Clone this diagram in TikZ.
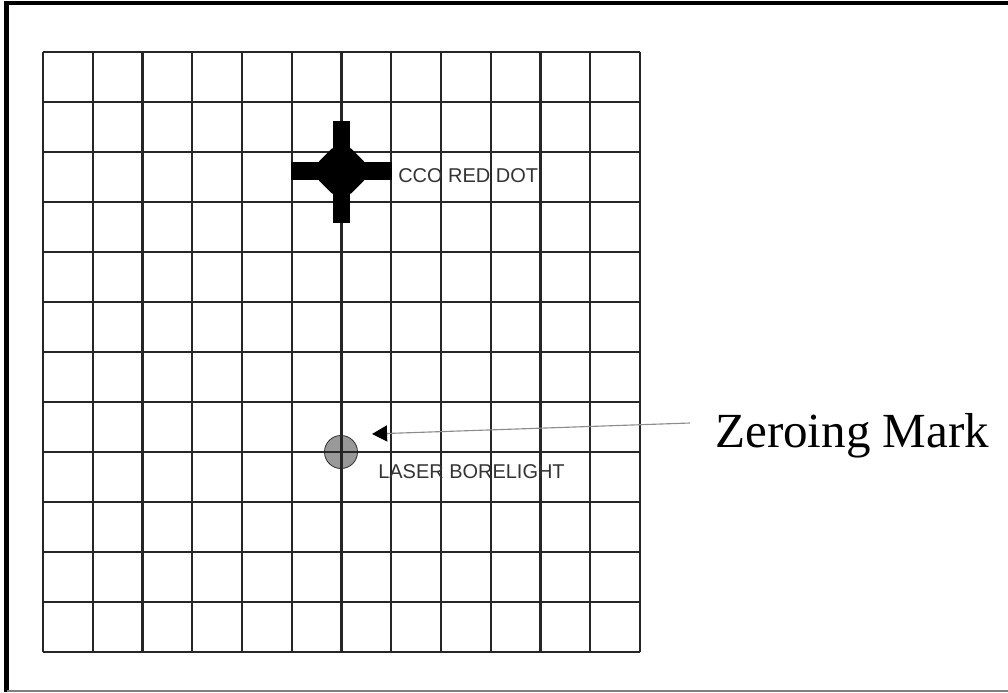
\documentclass[tikz,border=0pt]{standalone}
\usepackage{fontspec}
\setmainfont{Liberation Serif}
\newfontfamily\arialfont{Liberation Sans}
\usepackage{xcolor}
\usepackage{tikz}
\usetikzlibrary{arrows.meta, calc, positioning, shapes.geometric}

\begin{document}
\begin{tikzpicture}[x=0.025cm, y=-0.025cm,
  gridline/.style={black!85, line width=1.5pt},
  lbl/.style={font=\arialfont\fontsize{14.2}{16}\selectfont, text=black!80, inner sep=0pt, anchor=base west},
  laser/.style={circle, minimum size=23.5pt, inner sep=0pt, fill=black!40, draw=black!80, line width=0.6pt},
  dotmark/.style={regular polygon, regular polygon sides=8, minimum size=35pt, inner sep=0pt, fill=black},
  pointer/.style={black!45, line width=0.8pt, -{Triangle[length=10.7pt, width=11.4pt, color=black]}}]
\useasboundingbox (0,0) rectangle (1008,692);
% frame
\draw[line width=3pt] (6.5,692) -- (6.5,3) -- (1008,3);
\draw[black!50, line width=1.2pt] (6.5,691) -- (1008,691);
% laser boresight spot (under the grid)
\node[laser] (bore) at (341,452) {};
% target grid
\foreach \i in {0,...,12} {
  \draw[gridline] ({43+\i*49.75},52) -- ({43+\i*49.75},652);
  \draw[gridline] (43,{52+\i*50}) -- (640,{52+\i*50});
}
% red dot aiming mark
\node[dotmark] (reddot) at (341.5,171) {};
\fill (333,121) rectangle (350,223);
\fill (291,162) rectangle (392,180);
% labels
\node[lbl] (cco) at (398,182) {CCO RED DOT};
\node[lbl] (boretxt) at (378,478) {LASER BORELIGHT};
\node[anchor=base west, inner sep=0pt, font=\fontsize{34.9}{40}\selectfont] (zero) at (715,447) {Zeroing Mark};
% pointer to zeroing mark
\coordinate (tail) at (690,423);
\coordinate (tip) at (372,434);
\draw[pointer] (tail) -- (tip);
\end{tikzpicture}
\end{document}
